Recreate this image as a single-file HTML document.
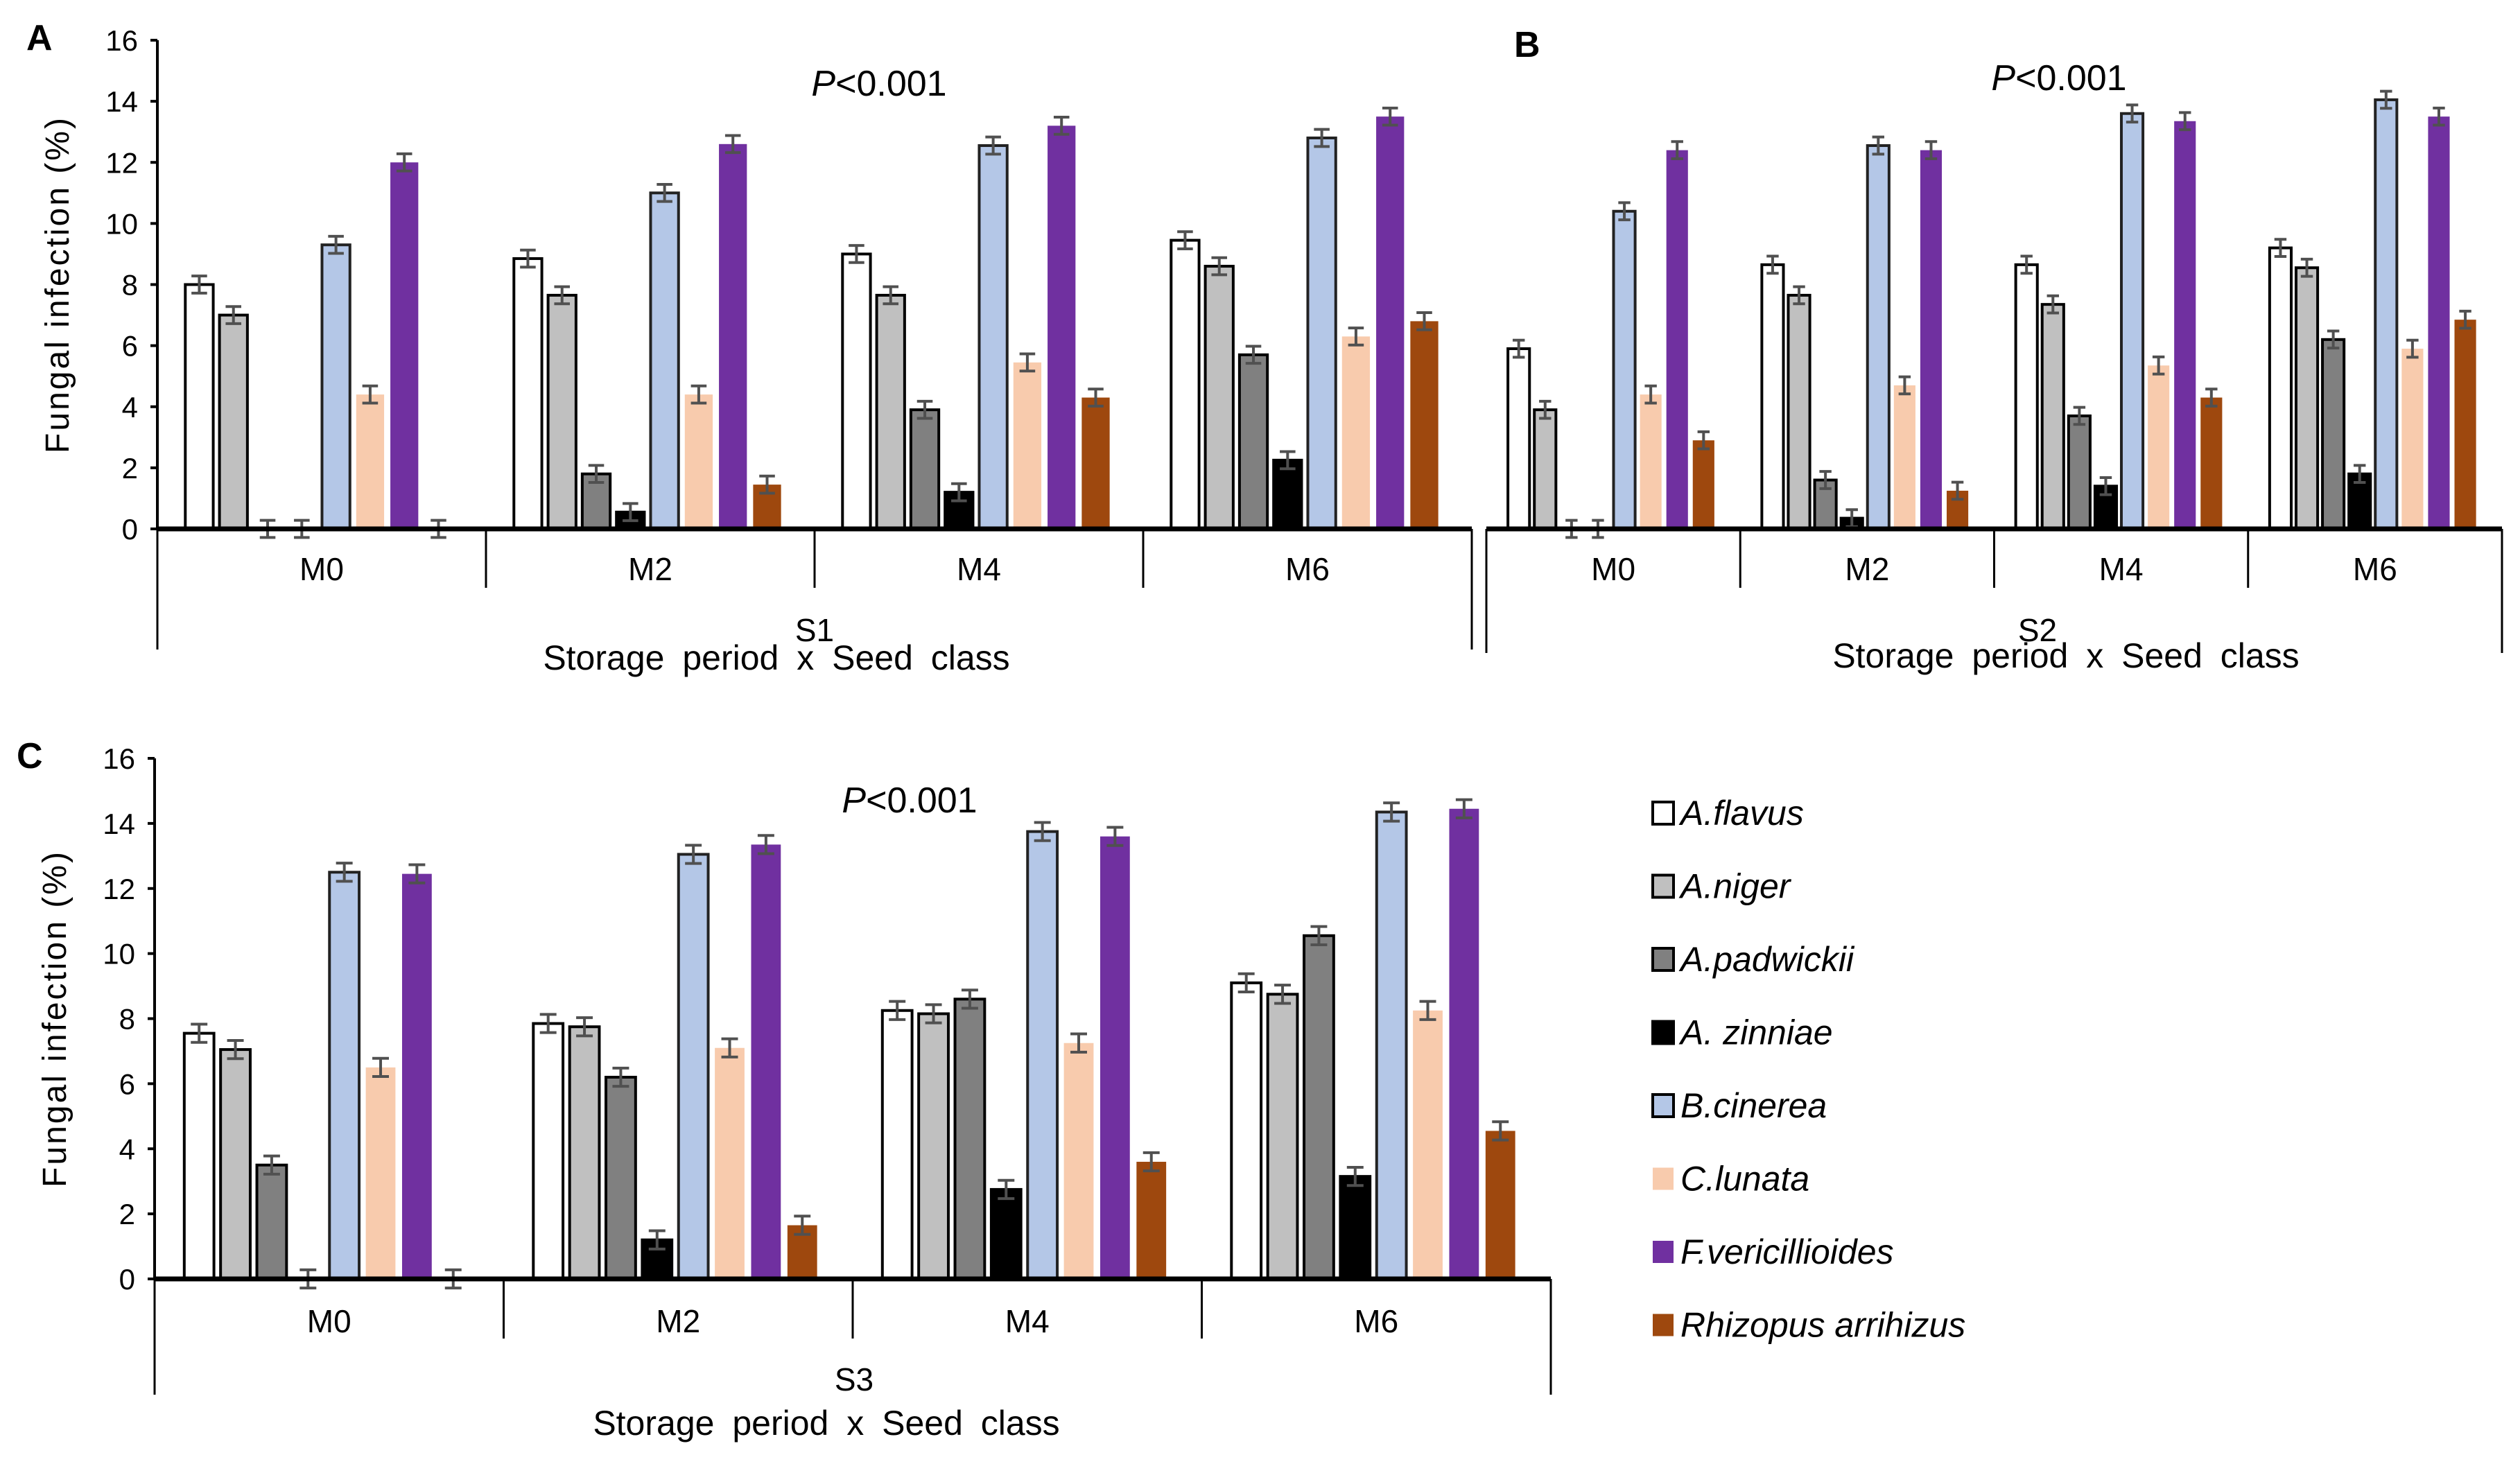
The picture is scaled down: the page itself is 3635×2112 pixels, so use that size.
<!DOCTYPE html>
<html><head><meta charset="utf-8">
<style>
html,body{margin:0;padding:0;background:#fff;}
svg{display:block;font-family:"Liberation Sans",Arial,sans-serif;}
</style></head>
<body>
<svg id="chart" width="3635" height="2112" viewBox="0 0 3635 2112" xmlns="http://www.w3.org/2000/svg"></svg>
<script>
const species = ["A.flavus","A.niger","A.padwickii","A. zinniae","B.cinerea","C.lunata","F.vericillioides","Rhizopus arrihizus"];
const periods = ["M0","M2","M4","M6"];
const yTicks = [0,2,4,6,8,10,12,14,16];
// values per period [M0,M2,M4,M6], per species
const s1Values = [
  [8.0,7.0,0,0,9.3,4.4,12.0,0],
  [8.85,7.65,1.8,0.55,11.0,4.4,12.6,1.45],
  [9.0,7.65,3.9,1.2,12.55,5.45,13.2,4.3],
  [9.45,8.6,5.7,2.25,12.8,6.3,13.5,6.8]
];
const s2Values = [
  [5.9,3.9,0,0,10.4,4.4,12.4,2.9],
  [8.65,7.65,1.6,0.35,12.55,4.7,12.4,1.25],
  [8.65,7.35,3.7,1.4,13.6,5.35,13.35,4.3],
  [9.2,8.55,6.2,1.8,14.05,5.9,13.5,6.85]
];
const s3Values = [
  [7.55,7.05,3.5,0,12.5,6.5,12.45,0],
  [7.85,7.75,6.2,1.2,13.05,7.1,13.35,1.65],
  [8.25,8.15,8.6,2.75,13.75,7.25,13.6,3.6],
  [9.1,8.75,10.55,3.15,14.35,8.25,14.45,4.55]
];
const errValue = 0.28;

const fills = ["#ffffff","#c0c0c0","#808080","#000000","#b4c7e7","#f8cbad","#7030a0","#9e480e"];
const strokes = ["#000","#000","#000","#000","#222",null,null,null];
const NS="http://www.w3.org/2000/svg";
const svg=document.getElementById('chart');
function mk(tag,attrs,parent){const e=document.createElementNS(NS,tag);for(const k in attrs)e.setAttribute(k,attrs[k]);(parent||svg).appendChild(e);return e;}
function txt(str,attrs,parent){const e=mk('text',attrs,parent);e.textContent=str;return e;}

function panel(cfg){
  const g=mk('g',{});
  
  
  const y=v=>cfg.y0-(v/16)*(cfg.y0-cfg.y16);
  const gw=(cfg.x1-cfg.x0)/4;
  cfg.values.forEach((grp,gi)=>{
    grp.forEach((v,si)=>{
      const bx=cfg.x0+gi*gw+gw*0.085+si*gw*0.104;
      const bw=gw*0.085;
      if(v>0){
        const r=mk('rect',{x:bx,y:y(v),width:bw,height:cfg.y0-y(v),fill:fills[si]},g);
        if(strokes[si]){r.setAttribute('stroke',strokes[si]);r.setAttribute('stroke-width',4);}
        
        
      }
      const cx=bx+bw/2, cw=bw*0.28;
      const lo=v-errValue, hi=v+errValue;
      const eb=mk('path',{d:`M${cx},${y(lo)}V${y(hi)}M${cx-cw},${y(lo)}H${cx+cw}M${cx-cw},${y(hi)}H${cx+cw}`,stroke:'#505050','stroke-width':4,fill:'none'},g);
      
      
    });
  });
  if(cfg.ticks){
    mk('line',{x1:cfg.x0,y1:cfg.y16,x2:cfg.x0,y2:cfg.y0,stroke:'#000','stroke-width':4},g);
    yTicks.forEach(t=>{
      mk('line',{x1:cfg.x0-10,y1:y(t),x2:cfg.x0,y2:y(t),stroke:'#000','stroke-width':4},g);
      const tl=txt(String(t),{x:cfg.x0-28,y:y(t)+15,'font-size':42,'text-anchor':'end',fill:'#000'},g);
      
      
    });
    const yt=txt('Fungal  infection  (%)',{x:0,y:0,'font-size':48,'text-anchor':'middle',fill:'#000','letter-spacing':3,transform:`translate(${cfg.x0-128},${(cfg.y0+cfg.y16)/2}) rotate(-90)`},g);
    
    
  }
  mk('line',{x1:cfg.x0,y1:cfg.y0,x2:cfg.x1,y2:cfg.y0,stroke:'#000','stroke-width':7},g);
  mk('line',{x1:cfg.x0,y1:cfg.y0,x2:cfg.x0,y2:cfg.bot,stroke:'#000','stroke-width':3},g);
  mk('line',{x1:cfg.x1,y1:cfg.y0,x2:cfg.x1,y2:cfg.bot,stroke:'#000','stroke-width':3},g);
  for(let i=1;i<4;i++){const dx=cfg.x0+i*gw;mk('line',{x1:dx,y1:cfg.y0,x2:dx,y2:cfg.mid,stroke:'#000','stroke-width':3},g);}
  periods.forEach((p,i)=>{
    const t=txt(p,{x:cfg.x0+(i+0.5)*gw,y:cfg.mly,'font-size':46,'text-anchor':'middle',fill:'#000'},g);
    
    
  });
  const s=txt(cfg.s,{x:cfg.sx,y:cfg.sy,'font-size':46,'text-anchor':'middle',fill:'#000'},g);
  
  
  const xt=txt('Storage period x Seed class',{x:cfg.tx,y:cfg.ty,'font-size':50,'text-anchor':'middle',fill:'#000','word-spacing':12},g);
  
  
  const pl=mk('text',{x:cfg.px,y:cfg.py,'font-size':52,'text-anchor':'middle',fill:'#000'},g);
  pl.innerHTML='<tspan font-style="italic">P</tspan>&lt;0.001';
  
  
  const L=txt(cfg.id,{x:cfg.lx,y:cfg.ly,'font-size':52,'font-weight':'bold',fill:'#000'},g);
  
  
}

panel({id:'A',values:s1Values,x0:227,x1:2123,y0:763,y16:58,bot:937,mid:848,mly:837,ticks:true,s:'S1',sx:1175,sy:925,tx:1120,ty:966,px:1268,py:138,lx:38,ly:72});
panel({id:'B',values:s2Values,x0:2144,x1:3609,y0:763,y16:58,bot:942,mid:848,mly:837,ticks:false,s:'S2',sx:2939,sy:925,tx:2980,ty:963,px:2970,py:130,lx:2184,ly:82});
panel({id:'C',values:s3Values,x0:223,x1:2237,y0:1845,y16:1094,bot:2012,mid:1931,mly:1922,ticks:true,s:'S3',sx:1232,sy:2006,tx:1192,ty:2070,px:1312,py:1172,lx:24,ly:1108});

species.forEach((sp,i)=>{
  const g=mk('g',{});
  
  
  const cy=1173+i*105.5;
  const r=mk('rect',{x:2384,y:cy-16,width:30,height:32,fill:fills[i]},g);
  if(strokes[i]){r.setAttribute('stroke','#000');r.setAttribute('stroke-width',4);}
  txt(sp,{x:2424,y:cy+17,'font-size':50,'font-style':'italic',fill:'#000'},g);
});
</script>
</body></html>
